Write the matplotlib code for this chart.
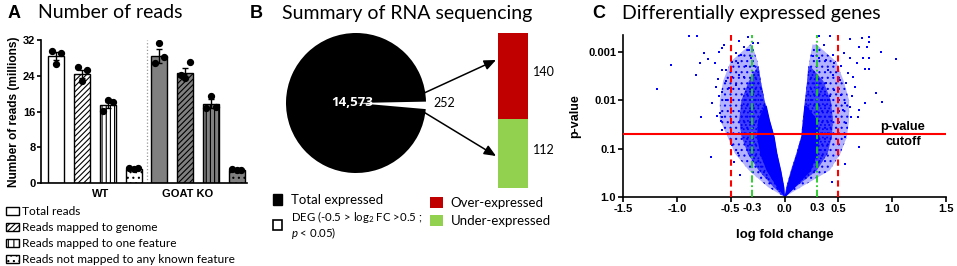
import numpy as np
import matplotlib
matplotlib.use('Agg')
import matplotlib.pyplot as plt
from matplotlib.patches import Patch

plt.rcParams['font.family'] = ['Lato', 'DejaVu Sans']
plt.rcParams['mathtext.fontset'] = 'custom'
plt.rcParams['mathtext.rm'] = 'Lato'
plt.rcParams['mathtext.it'] = 'Lato:italic'
plt.rcParams['hatch.linewidth'] = 0.8

# ---- panel A: number of reads (millions) ----
read_types = ['Total reads', 'Reads mapped to genome', 'Reads mapped to one feature',
              'Reads not mapped to any known feature']
groups = ['WT', 'GOAT KO']
wt_means = [28.4, 24.3, 17.4, 3.1]
ko_means = [28.4, 24.6, 17.7, 3.0]
wt_sem = [0.9, 0.9, 0.7, 0.1]
ko_sem = [1.5, 1.2, 1.0, 0.15]
wt_reps = [[29.6, 26.6, 29.2], [25.9, 22.8, 25.3], [16.2, 18.6, 18.2], [3.3, 3.2, 3.3]]
ko_reps = [[26.8, 31.4, 28.1], [24.2, 23.6, 27.1], [16.7, 19.5, 16.9], [3.2, 2.9, 2.9]]
a_yticks = [0, 8, 16, 24, 32]

# ---- panel B: summary of RNA sequencing ----
total_expressed = 14573
deg_total = 252
over_expressed = 140
under_expressed = 112

# ---- panel C: volcano plot; outline of the gene cloud in -log10(p) ----
# sparse outer cloud
halo_v = [0.0, 0.2, 0.55, 0.9, 1.25, 1.6, 2.0, 2.4, 2.8, 3.15]
halo_l_out = [0.0, -0.15, -0.33, -0.46, -0.53, -0.60, -0.60, -0.57, -0.50, -0.32]
halo_l_in = [0.0, -0.005, -0.034, -0.07, -0.096, -0.14, -0.185, -0.22, -0.25, -0.30]
halo_r_in = [0.0, 0.016, 0.06, 0.11, 0.155, 0.17, 0.19, 0.21, 0.23, 0.26]
halo_r_out = [0.0, 0.15, 0.42, 0.52, 0.58, 0.60, 0.60, 0.55, 0.48, 0.30]
# denser middle of each lobe
mid_v = [0.0, 0.2, 0.55, 0.9, 1.25, 1.6, 2.0, 2.4, 2.7]
mid_l_out = [0.0, -0.10, -0.24, -0.34, -0.40, -0.42, -0.40, -0.33, -0.25]
mid_l_in = [0.0, -0.005, -0.034, -0.07, -0.096, -0.14, -0.185, -0.22, -0.24]
mid_r_in = [0.0, 0.016, 0.06, 0.11, 0.155, 0.17, 0.19, 0.21, 0.22]
mid_r_out = [0.0, 0.10, 0.30, 0.40, 0.44, 0.45, 0.43, 0.36, 0.24]
# saturated core
core_v = [0.0, 0.2, 0.55, 0.9, 1.25, 1.6, 1.9]
core_l_out = [0.0, -0.07, -0.17, -0.23, -0.26, -0.25, -0.19]
core_l_in = [0.0, -0.005, -0.034, -0.07, -0.096, -0.14, -0.17]
core_r_in = [0.0, 0.016, 0.06, 0.11, 0.155, 0.17, 0.18]
core_r_out = [0.0, 0.09, 0.24, 0.30, 0.32, 0.30, 0.20]
# scattered genes (log fold change, -log10 p)
gene_fc = [-0.885, -0.817, -1.05, -1.18, -0.746, -0.786, -0.706, -0.644, -0.823, -0.675,
           -0.773, -0.606, -0.576, -0.566, -0.42, -0.337, -0.375, -0.452, -0.406, -0.483,
           -0.436, -0.576, -0.539, -0.622, -0.545, -0.483, -0.42, -0.375, -0.638, -0.576,
           -0.606, -0.52, -0.452, -0.539, -0.60, -0.576, -0.588, -0.582, -0.63, -0.328,
           -0.313, -0.282, -0.359, -0.25, -0.297, -0.684, -0.412, -0.483, -0.467, -0.436,
           0.427, 0.613, 0.721, 0.789, 0.789, 0.696, 0.764, 0.898, 1.037, 0.557,
           0.604, 0.671, 0.727, 0.789, 0.752, 0.789, 0.851, 0.907, 0.752, 0.696,
           0.681, 0.634, 0.588, 0.573, 0.659, 0.628, 0.566, 0.604, 0.566, 0.325,
           0.371, 0.263, 0.325, 0.387, 0.449, 0.464, 0.402, 0.449, 0.526, 0.511,
           0.387, 0.464, 0.526, 0.418, 0.542, 0.619, 0.573, 0.69, 0.566, 0.44]
gene_v = [3.32, 3.33, 2.73, 2.24, 2.97, 2.78, 2.85, 2.78, 2.52, 1.95,
          1.65, 3.0, 3.08, 3.15, 3.22, 3.31, 3.11, 2.97, 2.94, 2.80,
          2.77, 2.62, 2.63, 2.44, 2.39, 2.49, 2.53, 2.49, 2.27, 2.18,
          2.08, 2.25, 2.32, 2.01, 1.73, 1.65, 1.58, 1.39, 1.68, 3.04,
          2.87, 2.70, 2.70, 3.18, 3.18, 0.83, 0.455, 1.08, 0.73, 0.90,
          3.33, 3.26, 3.29, 3.31, 3.21, 3.11, 3.11, 2.99, 2.86, 2.97,
          2.87, 2.77, 2.87, 2.87, 2.65, 2.65, 2.15, 1.97, 1.95, 1.79,
          1.66, 2.49, 2.56, 2.35, 2.28, 2.08, 1.94, 1.87, 1.25, 3.32,
          3.15, 2.91, 2.87, 2.84, 2.94, 2.77, 2.63, 2.53, 2.70, 2.42,
          2.35, 2.21, 2.11, 2.08, 1.80, 1.66, 1.53, 1.04, 0.68, 0.30]
p_cutoff = 0.05
fc_inner, fc_outer = 0.3, 0.5
c_xticks = [-1.5, -1.0, -0.5, 0.0, 0.5, 1.0, 1.5]

W, H = 957, 266
fig = plt.figure(figsize=(W / 100, H / 100), dpi=100)


def px_axes(left, top, right, bottom):
    return fig.add_axes([left / W, 1 - bottom / H, (right - left) / W, (bottom - top) / H])


bold = dict(family='Liberation Sans', fontweight='bold')

# ================= A =================
axA = px_axes(41, 40, 247, 183)
hatches = ['', '//////', '||||', '...']
pos = np.arange(8)
means = wt_means + ko_means
sems = wt_sem + ko_sem
reps = wt_reps + ko_reps
for i in range(8):
    axA.bar(pos[i], means[i], width=0.62, color='white' if i < 4 else '#808080',
            edgecolor='black', linewidth=1.0, hatch=hatches[i % 4], zorder=2)
    axA.errorbar(pos[i], means[i], yerr=sems[i], color='black', capsize=2.5,
                 elinewidth=1.0, capthick=1.0, zorder=3)
    axA.scatter(pos[i] + np.array([-0.18, 0.0, 0.18]), reps[i], s=18, color='black', zorder=4)
axA.axvline(3.5, color='#999999', ls=':', lw=0.9)
axA.set_xlim(-0.6, 7.4)
axA.set_ylim(0, 32)
axA.set_yticks(a_yticks)
axA.set_yticklabels([str(t) for t in a_yticks], fontsize=8, **bold)
axA.set_xticks([1.7, 5.1])
axA.set_xticklabels(groups, fontsize=8, **bold)
axA.tick_params(axis='x', length=0, pad=4)
axA.tick_params(axis='y', length=3, width=1.2, pad=1)
for s in ['top', 'right']:
    axA.spines[s].set_visible(False)
for s in ['left', 'bottom']:
    axA.spines[s].set_linewidth(1.2)
axA.set_ylabel('Number of reads (millions)', fontsize=8.6, labelpad=2, **bold)

leg_handles = [Patch(facecolor='white', edgecolor='black', hatch=h, linewidth=1.0) for h in
               ['', '//////', '|||', '...']]
fig.legend(leg_handles, read_types, loc='upper left', bbox_to_anchor=(6 / W, 1 - 206 / H),
           frameon=False, fontsize=8.6, handlelength=1.05, handleheight=0.7,
           handletextpad=0.25, labelspacing=0.42, borderpad=0, borderaxespad=0)

# ================= B =================
axP = px_axes(286, 33, 426, 173)
axP.pie([deg_total, total_expressed], colors=['white', 'black'], startangle=-5,
        wedgeprops=dict(linewidth=0), radius=1)
axP.set_xlim(-1, 1)
axP.set_ylim(-1, 1)
axP.text(-0.06, 0.0, f'{total_expressed:,}', color='white', fontsize=9.5, fontweight='bold',
         family='Open Sans', ha='center', va='center')
axP.text(1.1, 0.0, f'{deg_total}', color='black', fontsize=9, ha='left', va='center')

axS = px_axes(498, 33, 528, 188)
axS.bar(0, under_expressed, width=1, color='#92D050')
axS.bar(0, over_expressed, bottom=under_expressed, width=1, color='#C00000')
axS.set_xlim(-0.5, 0.5)
axS.set_ylim(0, deg_total)
axS.axis('off')
axS.text(0.68, under_expressed + over_expressed * 0.55, f'{over_expressed}', fontsize=9,
         ha='left', va='center', clip_on=False)
axS.text(0.68, under_expressed * 0.55, f'{under_expressed}', fontsize=9, ha='left',
         va='center', clip_on=False)

ov = fig.add_axes([0, 0, 1, 1])
ov.set_xlim(0, W)
ov.set_ylim(H, 0)
ov.axis('off')
ov.patch.set_visible(False)
arrow = dict(arrowstyle='-|>,head_length=0.7,head_width=0.3', color='black', lw=1.1,
             shrinkA=0, shrinkB=0, mutation_scale=10)
ov.annotate('', xy=(496, 60), xytext=(422, 94), arrowprops=arrow)
ov.annotate('', xy=(496, 156), xytext=(422, 111), arrowprops=arrow)

b_handles = [Patch(facecolor='black', edgecolor='black'),
             Patch(facecolor='white', edgecolor='black', linewidth=1.2)]
b_labels = ['Total expressed', 'DEG (-0.5 > log$_2$ FC >0.5 ;\n$p$ < 0.05)']
legB = fig.legend(b_handles, b_labels, loc='upper left', bbox_to_anchor=(273 / W, 1 - 194 / H),
                  frameon=False, fontsize=9.5, handlelength=0.7, handleheight=0.85,
                  handletextpad=0.7, labelspacing=0.25, borderpad=0, borderaxespad=0)
legB.get_texts()[1].set_fontsize(8.2)
legB.get_texts()[1].set_linespacing(1.0)
fig.legend([Patch(facecolor='#C00000'), Patch(facecolor='#92D050')],
           ['Over-expressed', 'Under-expressed'], loc='upper left',
           bbox_to_anchor=(430 / W, 1 - 197 / H), frameon=False, fontsize=9.5,
           handlelength=1.0, handleheight=0.9, handletextpad=0.55, labelspacing=0.42,
           borderpad=0, borderaxespad=0)

# ================= C =================
axC = px_axes(623, 35, 946, 197)
axC.set_yscale('log')
zones = [
    (halo_v, halo_l_out, halo_l_in, halo_r_in, halo_r_out, (0, 0, 1, 0.3), '...'),
    (mid_v, mid_l_out, mid_l_in, mid_r_in, mid_r_out, (0, 0, 1, 0.65), '....'),
    (core_v, core_l_out, core_l_in, core_r_in, core_r_out, (0, 0, 1, 1), None),
]
for v, l_out, l_in, r_in, r_out, face, hatch in zones:
    p = 10 ** -np.array(v)
    axC.fill_betweenx(p, l_out, l_in, facecolor=face, edgecolor='blue', hatch=hatch, lw=0)
    axC.fill_betweenx(p, r_in, r_out, facecolor=face, edgecolor='blue', hatch=hatch, lw=0)
axC.scatter(gene_fc, 10 ** -np.array(gene_v), s=3.5, marker='s', color='blue', linewidths=0)
axC.axhline(p_cutoff, color='red', lw=1.5, zorder=5)
for x in (-fc_outer, fc_outer):
    axC.axvline(x, color='red', ls=(0, (3, 2)), lw=1.5, zorder=4)
for x in (-fc_inner, fc_inner):
    axC.axvline(x, color='#22CC22', ls=(0, (4, 1.5, 1, 1.5)), lw=1.3, zorder=4)
axC.set_xlim(-1.5, 1.5)
axC.set_ylim(1.0, 10 ** -3.35)
axC.set_yticks([1.0, 0.1, 0.01, 0.001])
axC.set_yticklabels(['1.0', '0.1', '0.01', '0.001'], fontsize=8, **bold)
axC.yaxis.set_minor_locator(matplotlib.ticker.NullLocator())
axC.set_xticks(c_xticks)
axC.set_xticklabels([f'{t:.1f}' for t in c_xticks], fontsize=8, **bold)
axC.set_xticks([-fc_inner, fc_inner], minor=True)
axC.set_xticklabels([f'{-fc_inner:.1f}', f'{fc_inner:.1f}'], minor=True, fontsize=8, **bold)
axC.tick_params(which='major', length=3.5, width=1.2, pad=1.5)
axC.tick_params(which='minor', length=0, pad=4.5)
for s in ['top', 'right']:
    axC.spines[s].set_visible(False)
for s in ['left', 'bottom']:
    axC.spines[s].set_linewidth(1.2)
axC.set_xlabel('log fold change', fontsize=9.5, labelpad=11, **bold)
axC.set_ylabel('p-value', fontsize=9, labelpad=5, **bold)
axC.text(1.1, p_cutoff * 0.97, 'p-value', fontsize=9.3, ha='center', va='bottom', **bold)
axC.text(1.1, p_cutoff * 1.1, 'cutoff', fontsize=9.3, ha='center', va='top', **bold)

# ---- panel titles ----
for x, letter in [(8, 'A'), (250, 'B'), (592, 'C')]:
    fig.text(x / W, 1 - 13 / H, letter, fontsize=13, va='center', **bold)
for x, title in [(38, 'Number of reads'), (282, 'Summary of RNA sequencing'),
                 (622, 'Differentially expressed genes')]:
    fig.text(x / W, 1 - 13 / H, title, fontsize=14, va='center')

fig.savefig('out.png', dpi=100)
